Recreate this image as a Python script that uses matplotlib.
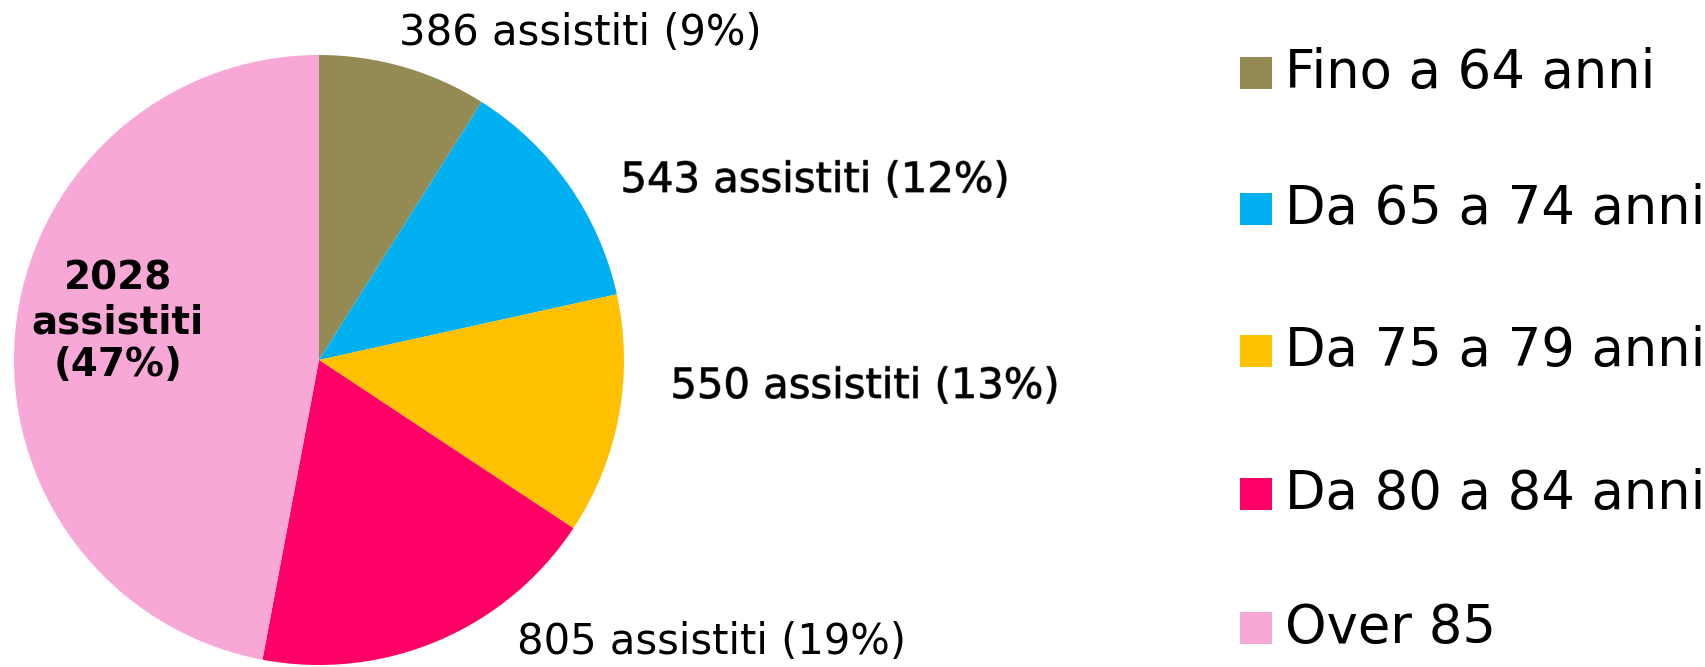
import matplotlib
matplotlib.use("Agg")
import matplotlib.pyplot as plt
from matplotlib.patches import Rectangle
import matplotlib.patheffects as pe

categories = ["Fino a 64 anni", "Da 65 a 74 anni", "Da 75 a 79 anni", "Da 80 a 84 anni", "Over 85"]
values = [386, 543, 550, 805, 2028]
percents = [9, 12, 13, 19, 47]
colors = ["#948A54", "#00B0F0", "#FFC000", "#FF0066", "#F7A8D6"]

W, H = 1706, 667
fig = plt.figure(figsize=(W / 100, H / 100), dpi=100)
fig.patch.set_facecolor("white")


def fx(x):
    return x / W


def fy(y):
    return 1 - y / H


# Pie: centre (319, 360) px, radius 305 px
cx, cy, r = 319, 360, 305
ax = fig.add_axes([fx(cx - r), fy(cy + r), 2 * r / W, 2 * r / H])
wedges, _ = ax.pie(values, colors=colors, startangle=90, counterclock=False,
                   radius=1, wedgeprops=dict(linewidth=0))
for w in wedges:
    w.set_clip_on(False)
ax.set_xlim(-1, 1)
ax.set_ylim(-1, 1)
ax.axis("off")

# Data labels
label_pos = [(580, 33), (815, 180), (865, 386), (712, 642)]
shadow = [False, True, True, False]
for i in range(4):
    t = fig.text(fx(label_pos[i][0]), fy(label_pos[i][1]),
                 f"{values[i]} assistiti ({percents[i]}%)",
                 ha="center", va="center", fontsize=30, color="black",
                 family="DejaVu Sans")
    if shadow[i]:
        t.set_path_effects([pe.withStroke(linewidth=0.8, foreground="#555555")])

fig.text(fx(118), fy(322), f"{values[4]}\nassistiti\n({percents[4]}%)",
         ha="center", va="center", fontsize=28, fontweight="bold",
         color="black", linespacing=1.18, family="DejaVu Sans")

# Legend (manual)
leg_y = [73, 209, 351, 494, 628]
sq = 32
for i, cat in enumerate(categories):
    y = leg_y[i]
    fig.patches.append(Rectangle((fx(1240), fy(y + sq / 2)), sq / W, sq / H,
                                 transform=fig.transFigure, facecolor=colors[i],
                                 edgecolor="none"))
    fig.text(fx(1285), fy(y), cat, ha="left", va="center", fontsize=38,
             color="black", family="DejaVu Sans")

fig.savefig("out.png", dpi=100, facecolor="white")
